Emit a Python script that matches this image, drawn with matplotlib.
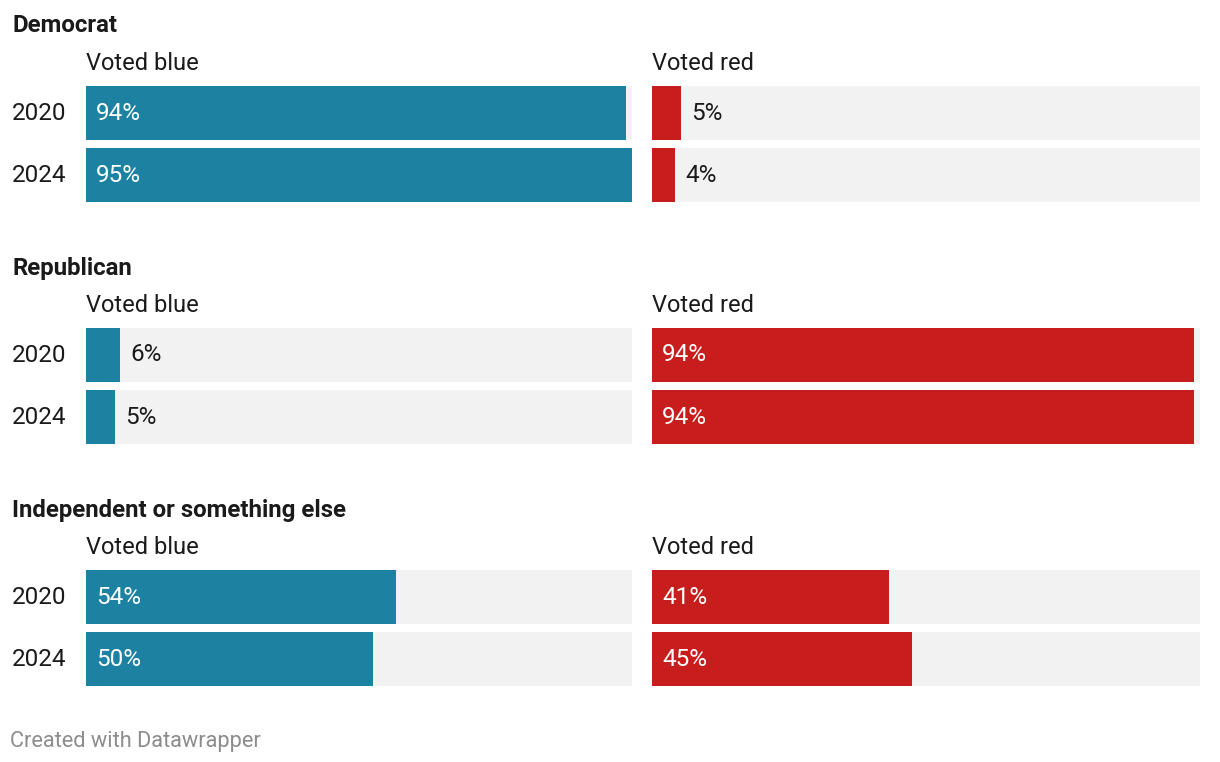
import matplotlib.pyplot as plt

plt.rcParams['font.family'] = ['Roboto', 'DejaVu Sans']

# 数据
groups = ['Democrat', 'Republican', 'Independent or something else']
years = ['2020', '2024']
blue = [[94, 95], [6, 5], [54, 50]]
red = [[5, 4], [94, 94], [41, 45]]

BLUE = '#1d81a2'
RED = '#c71e1d'
BG = '#f2f2f2'
TXT = '#1a1a1a'
XMAX = 95

W, H = 1220, 762
fig = plt.figure(figsize=(W / 100, H / 100), dpi=100)


def px_axes(x0, y0, x1, y1):
    # 像素坐标(左上原点) -> 轴
    return fig.add_axes([x0 / W, 1 - y1 / H, (x1 - x0) / W, (y1 - y0) / H])


def fy(y):
    return 1 - y / H


for g, name in enumerate(groups):
    top = 86 + g * 242
    fig.text(12 / W, fy(top - 60), name, fontsize=17.3, fontweight='bold',
             color=TXT, va='center', ha='left')
    for side, (vals, color, x0, x1, head) in enumerate([
            (blue[g], BLUE, 86, 632, 'Voted blue'),
            (red[g], RED, 652, 1200, 'Voted red')]):
        fig.text(x0 / W, fy(top - 22), head, fontsize=17, color=TXT,
                 va='center', ha='left')
        ax = px_axes(x0, top, x1, top + 116)
        ax.set_xlim(0, XMAX)
        ax.set_ylim(116, 0)
        ax.axis('off')
        for i, v in enumerate(vals):
            yc = 27 + i * 62
            ax.barh(yc, XMAX, height=54, color=BG, left=0)
            ax.barh(yc, v, height=54, color=color, left=0)
            if v > 15:
                ax.text(1.75, yc, f'{v}%', color='white', fontsize=17.5,
                        va='center', ha='left')
            else:
                ax.text(v + 1.75, yc, f'{v}%', color=TXT, fontsize=17.5,
                        va='center', ha='left')
    for i, yr in enumerate(years):
        fig.text(12 / W, fy(top + 27 + i * 62), yr, fontsize=17.5, color=TXT,
                 va='center', ha='left')

fig.text(10 / W, fy(741), 'Created with Datawrapper', fontsize=15.7,
         color='#8c8c8c', va='center', ha='left')

plt.savefig('out.png', dpi=100)
